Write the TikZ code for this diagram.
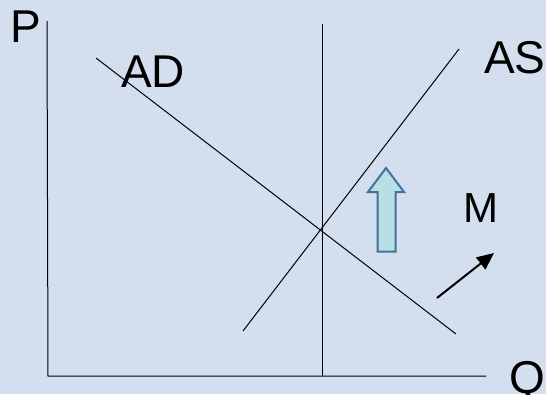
\documentclass[tikz,border=0pt]{standalone}
\usepackage{fontspec}
\setmainfont{Liberation Sans}
\usetikzlibrary{arrows.meta}
\definecolor{bg}{RGB}{211,222,239}
\definecolor{arrfill}{RGB}{184,224,228}
\definecolor{arrline}{RGB}{65,113,156}
\begin{document}
\begin{tikzpicture}[x=1pt,y=-1pt,
  lbl/.style={anchor=base west,inner sep=0pt,outer sep=0pt,font=\fontsize{46}{50}\selectfont},
  thin line/.style={line width=1pt,black}]
\fill[bg] (0,0) rectangle (546,394);
\useasboundingbox (0,0) rectangle (546,394);
% axes
\coordinate (ptop) at (47,21);
\coordinate (origin) at (48,376);
\coordinate (qend) at (486,376);
\draw[thin line] (ptop) -- (origin) -- (qend);
% vertical line
\coordinate (vtop) at (322,24);
\coordinate (vbot) at (322,376);
\draw[thin line] (vtop) -- (vbot);
% AD
\coordinate (adstart) at (96,58);
\coordinate (adend) at (456,334);
\draw[thin line] (adstart) -- (adend);
% AS
\coordinate (asstart) at (243,331);
\coordinate (asend) at (459,49);
\draw[thin line] (asstart) -- (asend);
% labels
\node[lbl] (P) at (10,42) {P};
\node[lbl] (AD) at (121,87) {AD};
\node[lbl] (AS) at (484,73) {AS};
\node[lbl] (Q) at (509,393) {Q};
\node[lbl,font=\fontsize{42}{46}\selectfont] (M) at (463,222) {M};
% block arrow
\draw[line width=2pt,arrline,fill=arrfill,line join=miter]
  (386,168) -- (404,192) -- (395.5,192) -- (395.5,251.5) -- (377.5,251.5) -- (377.5,192) -- (368,192) -- cycle;
% small arrow
\coordinate (mstart) at (437,298);
\coordinate (mend) at (494,253);
\draw[line width=2pt,-{Triangle[length=17pt,width=15pt]}] (mstart) -- (mend);
\end{tikzpicture}
\end{document}
